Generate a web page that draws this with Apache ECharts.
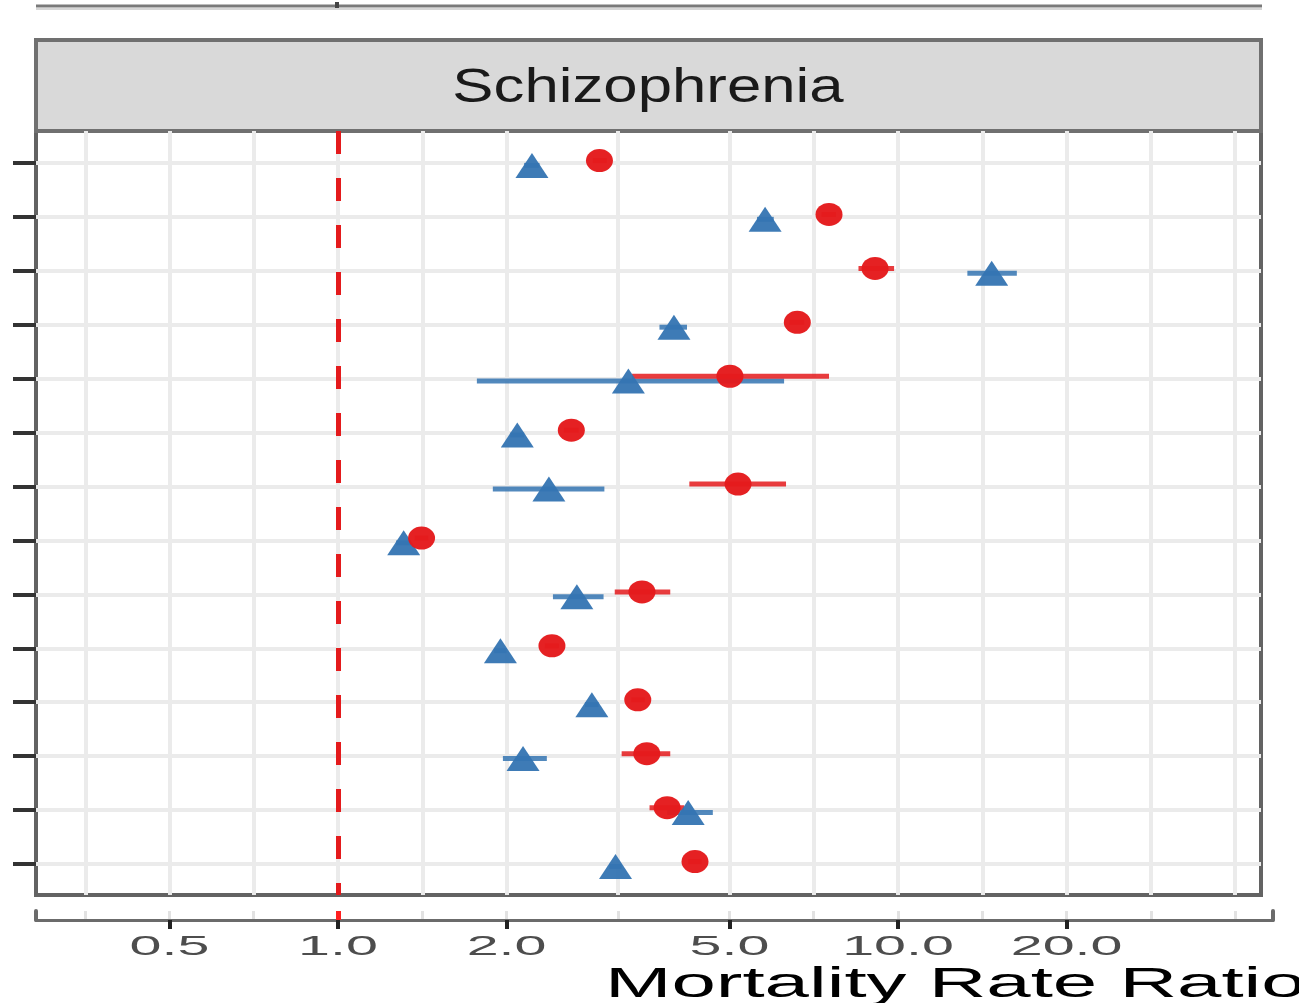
<!DOCTYPE html>
<html>
<head>
<meta charset="utf-8">
<script src="https://cdn.jsdelivr.net/npm/echarts@6/dist/echarts.min.js"></script>
<style>
  html, body { margin: 0; padding: 0; background: #fff; }
  #chart { width: 1299px; height: 1003px; }
</style>
</head>
<body>
<div id="chart"></div>
<script>
// rows listed top to bottom (labels not visible in the source panel)
const rows = ['r1','r2','r3','r4','r5','r6','r7','r8','r9','r10','r11','r12','r13','r14'];

// red circles
const redEst = [2.93, 7.53, 9.10, 6.61, 5.01, 2.61, 5.18, 1.41, 3.49, 2.41, 3.43, 3.56, 3.87, 4.34];
const redLo  = [2.85, 7.30, 8.50, 6.40, 3.35, 2.53, 4.24, 1.37, 3.12, 2.34, 3.34, 3.21, 3.60, 4.22];
const redHi  = [3.02, 7.75, 9.84, 6.80, 7.53, 2.69, 6.31, 1.45, 3.92, 2.48, 3.53, 3.92, 4.15, 4.46];

// blue triangles
const blueEst = [2.22, 5.79, 14.7, 3.98, 3.30, 2.09, 2.38, 1.31, 2.67, 1.95, 2.84, 2.14, 4.22, 3.13];
const blueLo  = [2.15, 5.60, 13.3, 3.75, 1.77, 2.03, 1.89, 1.27, 2.42, 1.90, 2.76, 1.97, 3.87, 3.05];
const blueHi  = [2.29, 6.00, 16.3, 4.20, 6.26, 2.15, 2.99, 1.35, 2.98, 2.00, 2.92, 2.36, 4.67, 3.21];

const tickValues = [0.5, 1, 2, 5, 10, 20];
const tickLabels = ['0.5', '1.0', '2.0', '5.0', '10.0', '20.0'];
const minorValues = [0.354, 0.707, 1.414, 3.162, 7.071, 14.14, 28.28, 40];
const refValue = 1;

const RED = '#e41a1c';
const BLUE = '#3474b2';
const log = Math.log10;

const X_MIN = -0.5393, X_MAX = 1.6482, X_MAX_AXIS = 1.6696;
const Y_MIN = 0.425, Y_MAX = 14.593;
const DODGE = 0.045;

const rowPos = rows.map((_, i) => rows.length - i);
const gridLog = tickValues.concat(minorValues).map(log);
const tickLog = tickValues.map(log);

function ciData(lo, hi, shift){
  return rows.map((_, i) => [log(lo[i]), log(hi[i]), rowPos[i] + shift]);
}
function pointData(est, shift){
  return rows.map((_, i) => [log(est[i]), rowPos[i] + shift]);
}
function ciItem(color){
  return function(params, api){
    const a = api.coord([api.value(0), api.value(2)]);
    const b = api.coord([api.value(1), api.value(2)]);
    return {
      type: 'line',
      shape: { x1: a[0], y1: a[1], x2: b[0], y2: b[1] },
      style: { stroke: color, lineWidth: 5, opacity: 0.85 }
    };
  };
}

const chart = echarts.init(document.getElementById('chart'), null, { renderer: 'canvas' });

chart.setOption({
  animation: false,
  backgroundColor: '#fff',
  grid: [
    { left: 36, right: 38, top: 131, bottom: 108, show: true,
      backgroundColor: '#fff', borderColor: '#636363', borderWidth: 4 },
    { left: 36, right: 26, top: 911, height: 9, show: false }
  ],
  xAxis: [
    { gridIndex: 0, type: 'value', min: X_MIN, max: X_MAX,
      axisLine: { show: false, onZero: false },
      axisTick: { show: false, customValues: gridLog },
      axisLabel: { show: false },
      splitLine: { show: true, lineStyle: { color: '#ebebeb', width: 4 } } },
    { gridIndex: 1, type: 'value', min: X_MIN, max: X_MAX_AXIS, position: 'bottom',
      axisLine: { show: true, onZero: false, lineStyle: { color: '#6b6b6b', width: 3 } },
      axisTick: { show: true, customValues: tickLog, length: 9, lineStyle: { color: '#222', width: 4 } },
      axisLabel: { show: false },
      splitLine: { show: false } },
    { gridIndex: 1, type: 'value', min: X_MIN, max: X_MAX_AXIS, position: 'top',
      axisLine: { show: false, onZero: false },
      axisTick: { show: false, customValues: gridLog },
      axisLabel: { show: false },
      splitLine: { show: true, lineStyle: { color: '#e2e2e2', width: 3 } } }
  ],
  yAxis: [
    { gridIndex: 0, type: 'value', min: Y_MIN, max: Y_MAX,
      axisLine: { show: false, onZero: false },
      axisTick: { show: true, customValues: rowPos, length: 23, lineStyle: { color: '#333', width: 4 } },
      axisLabel: { show: false },
      splitLine: { show: true, lineStyle: { color: '#ebebeb', width: 4 } } },
    { gridIndex: 1, type: 'value', min: 0, max: 1, position: 'left',
      axisLine: { show: true, onZero: false, lineStyle: { color: '#6b6b6b', width: 4 } },
      axisTick: { show: false }, axisLabel: { show: false }, splitLine: { show: false } },
    { gridIndex: 1, type: 'value', min: 0, max: 1, position: 'right',
      axisLine: { show: true, onZero: false, lineStyle: { color: '#6b6b6b', width: 4 } },
      axisTick: { show: false }, axisLabel: { show: false }, splitLine: { show: false } }
  ],
  graphic: [
    { type: 'line', shape: { x1: 36, y1: 6, x2: 1262, y2: 6 },
      style: { stroke: '#7a7a7a', lineWidth: 3 } },
    { type: 'line', shape: { x1: 36, y1: 9, x2: 1262, y2: 9 },
      style: { stroke: '#d6d6d6', lineWidth: 2 } },
    { type: 'line', shape: { x1: 337, y1: 2, x2: 337, y2: 8 },
      style: { stroke: '#444', lineWidth: 4 } },
    { type: 'rect', shape: { x: 36, y: 40, width: 1225, height: 91 },
      style: { fill: '#d9d9d9', stroke: '#707070', lineWidth: 4 } },
    { type: 'text', x: 648, y: 88, scaleX: 1.26,
      style: { text: 'Schizophrenia', align: 'center', verticalAlign: 'middle',
               font: '49px "Liberation Sans", Arial, sans-serif', fill: '#1a1a1a' } },
    { type: 'text', x: 605, y: 985, scaleX: 1.9,
      style: { text: 'Mortality Rate Ratio', align: 'left', verticalAlign: 'middle',
               font: '42px "Liberation Sans", Arial, sans-serif', fill: '#000' } }
  ],
  series: [
    { type: 'custom', name: 'blueCI', xAxisIndex: 0, yAxisIndex: 0,
      data: ciData(blueLo, blueHi, -DODGE), encode: { x: [0, 1], y: 2 },
      renderItem: ciItem(BLUE), z: 3 },
    { type: 'custom', name: 'redCI', xAxisIndex: 0, yAxisIndex: 0,
      data: ciData(redLo, redHi, DODGE), encode: { x: [0, 1], y: 2 },
      renderItem: ciItem(RED), z: 3 },
    { type: 'scatter', name: 'blue', xAxisIndex: 0, yAxisIndex: 0,
      data: pointData(blueEst, -DODGE), symbol: 'triangle', symbolSize: [33, 25],
      itemStyle: { color: BLUE, opacity: 0.95 }, z: 4,
      markLine: {
        silent: true, symbol: 'none', label: { show: false },
        lineStyle: { color: RED, width: 5, type: [23, 24] },
        data: [[{ coord: [log(refValue), Y_MAX] }, { coord: [log(refValue), Y_MIN] }]]
      } },
    { type: 'scatter', name: 'red', xAxisIndex: 0, yAxisIndex: 0,
      data: pointData(redEst, DODGE), symbol: 'circle', symbolSize: [27, 23],
      itemStyle: { color: RED, opacity: 0.97 }, z: 5 },
    { type: 'custom', name: 'ticks', xAxisIndex: 1, yAxisIndex: 1,
      data: tickLog.map(v => [v, 0]), clip: false,
      renderItem: function(params, api){
        const p = api.coord([api.value(0), 0]);
        return {
          type: 'text', x: p[0], y: p[1] + 27, scaleX: 2.05,
          style: { text: tickLabels[params.dataIndex], align: 'center', verticalAlign: 'middle',
                   font: '28px "Liberation Sans", Arial, sans-serif', fill: '#4d4d4d' }
        };
      },
      markLine: {
        silent: true, symbol: 'none', label: { show: false },
        lineStyle: { color: '#ff2020', width: 5, type: 'solid' },
        data: [[{ coord: [log(refValue), 1] }, { coord: [log(refValue), 0] }]]
      } }
  ]
});
</script>
</body>
</html>
